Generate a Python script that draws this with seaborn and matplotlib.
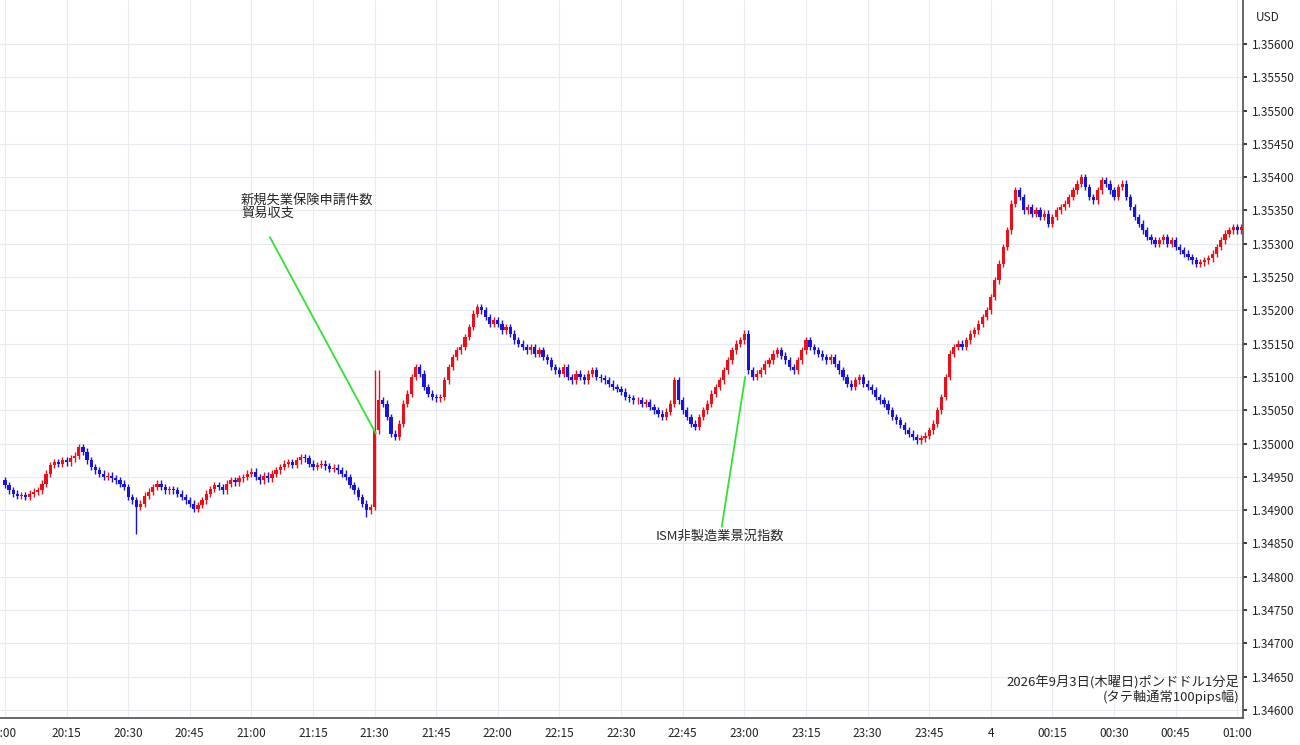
import numpy as np
import pandas as pd
import seaborn as sns
import matplotlib
matplotlib.use("Agg")
import matplotlib.pyplot as plt
from matplotlib.ticker import FixedLocator, FixedFormatter

# closes, in points (0.00001) above 1.34900, one per minute from 20:00
base = 1.34900
close_pts = [
 38,30,25,22,23,20,25,28,30,40,
 55,68,72,70,75,72,78,82,95,88,
 75,65,60,55,50,52,48,45,40,35,
 20,15,5,10,22,28,35,40,35,30,
 32,30,25,20,15,10,2,8,15,25,
 32,38,35,30,40,45,42,48,50,55,
 58,50,45,52,48,55,60,65,70,72,
 68,75,80,78,70,65,68,70,66,62,
 64,60,55,50,38,30,20,10,0,5,
 120,165,160,140,115,110,130,160,175,200,
 215,205,185,175,170,168,170,195,215,230,
 240,245,260,275,295,305,300,290,280,285,
 280,270,275,265,255,250,245,240,245,235,
 240,230,225,215,210,205,215,200,195,205,
 200,195,205,210,200,198,195,190,185,182,
 178,170,168,165,165,160,162,155,150,145,
 140,148,160,195,165,150,140,130,125,140,
 150,160,175,185,195,210,225,240,250,255,
 265,210,200,205,210,220,225,235,240,232,
 225,215,210,225,240,255,245,240,235,230,
 225,230,220,210,200,190,185,195,200,190,
 185,180,170,165,160,150,140,135,128,120,
 115,110,105,108,112,120,130,150,170,200,
 235,245,250,245,255,265,270,280,290,300,
 320,345,370,395,420,460,480,470,450,455,
 445,450,440,445,430,440,450,455,460,470,
 480,490,500,485,470,465,480,495,490,480,
 470,485,490,470,455,440,430,420,410,405,
 400,405,410,400,405,395,390,385,380,375,
 370,372,375,378,385,395,405,415,420,425,
 420,425,
]
first_open_pts = 45
wick_pts = 5
tick_labels = ["0:00","20:15","20:30","20:45","21:00","21:15","21:30","21:45","22:00",
               "22:15","22:30","22:45","23:00","23:15","23:30","23:45","4","00:15",
               "00:30","00:45","01:00"]
y_ticks = [1.34600,1.34650,1.34700,1.34750,1.34800,1.34850,1.34900,1.34950,1.35000,
           1.35050,1.35100,1.35150,1.35200,1.35250,1.35300,1.35350,1.35400,1.35450,
           1.35500,1.35550,1.35600]

c = base + np.array(close_pts) / 1e5
o = np.concatenate([[base + first_open_pts / 1e5], c[:-1]])
hi = np.maximum(o, c) + wick_pts / 1e5
lo = np.minimum(o, c) - wick_pts / 1e5
hi[90] = 1.35110; hi[91] = 1.35110; lo[32] = 1.34865; lo[88] = 1.34890
df = pd.DataFrame({"m": np.arange(len(c)), "o": o, "c": c, "h": hi, "l": lo})
df["up"] = df.c >= df.o

sns.set_theme(style="white")
plt.rcParams['font.family'] = ['Noto Sans CJK JP', 'DejaVu Sans']

fig = plt.figure(figsize=(13, 7.45), dpi=100)
ax = fig.add_axes([0, 27/745, 1243/1300, 718/745])
RED, BLUE = "#e8101a", "#1a14d4"
cols = np.where(df.up, RED, BLUE)
ax.vlines(df.m, df.l, df.h, colors=cols, linewidth=1, zorder=3)
bot = np.minimum(df.o, df.c)
height = np.maximum(np.abs(df.c - df.o), 0.000008)
ax.bar(df.m, height, bottom=bot, width=0.78, color=cols, linewidth=0, zorder=4)

ax.set_xlim(-1.2, 301.4)
ax.set_ylim(1.34588, 1.35666)
ax.xaxis.set_major_locator(FixedLocator(np.arange(0, 301, 15)))
ax.xaxis.set_major_formatter(FixedFormatter(tick_labels))
ax.yaxis.tick_right()
ax.set_yticks(y_ticks)
ax.set_yticklabels([f"{v:.5f}" for v in y_ticks])
ax.tick_params(axis='both', labelsize=8.5, colors="#222222", length=3)
ax.grid(True, color="#e8ecf0", linewidth=0.8)
for s in ["top", "left"]:
    ax.spines[s].set_visible(False)
ax.spines["right"].set_color("#555555")
ax.spines["bottom"].set_color("#555555")
ax.text(1.01, 0.985, "USD", transform=ax.transAxes, fontsize=8.5, va="top", ha="left")

g = "#33e033"
ax.plot([90.3, 64.5], [1.35015, 1.35310], color=g, lw=1.3, zorder=5)
ax.text(57.5, 1.35355, "新規失業保険申請件数\n貿易収支", fontsize=9.5, va="center", ha="left", linespacing=1.0)
ax.plot([180.2, 174.5], [1.35100, 1.34875], color=g, lw=1.3, zorder=5)
ax.text(158.5, 1.34860, "ISM非製造業景況指数", fontsize=9.5, va="center", ha="left")
ax.text(300.5, 1.34630, "2026年9月3日(木曜日)ポンドドル1分足\n(タテ軸通常100pips幅)", fontsize=9.5,
        va="center", ha="right", linespacing=1.0)
fig.savefig("out.png", dpi=100)
